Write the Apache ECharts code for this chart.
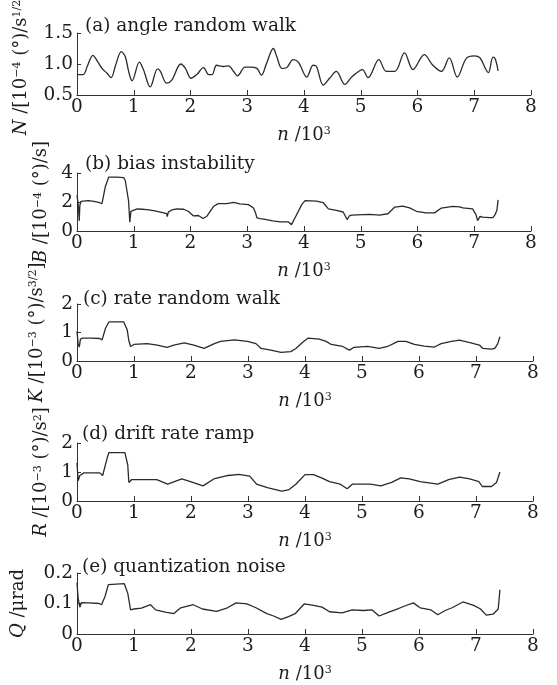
<!DOCTYPE html>
<html><head><meta charset="utf-8">
<script src="https://cdn.jsdelivr.net/npm/echarts@6/dist/echarts.min.js"></script>
<style>html,body{margin:0;padding:0;background:#fff}#c{width:557px;height:685px}</style>
</head><body><div id="c"></div>
<script>
// ---- data ----
const xTicks = [0,1,2,3,4,5,6,7,8];
const titles = ['(a) angle random walk','(b) bias instability','(c) rate random walk','(d) drift rate ramp','(e) quantization noise'];

const nA = [0.00,0.11,0.18,0.28,0.35,0.44,0.53,0.60,0.68,0.78,0.85,0.91,0.97,1.10,1.17,1.29,1.42,1.47,1.58,1.67,1.83,1.91,2.01,2.11,2.23,2.32,2.38,2.46,2.58,2.67,2.76,2.83,2.96,3.05,3.17,3.25,3.34,3.46,3.52,3.61,3.69,3.81,3.90,4.05,4.16,4.22,4.34,4.45,4.57,4.72,4.84,4.98,5.03,5.13,5.32,5.45,5.60,5.77,5.92,6.12,6.27,6.42,6.56,6.70,6.86,7.00,7.10,7.20,7.25,7.33,7.37,7.42];
const vA = [0.83,0.83,0.96,1.14,1.06,0.93,0.85,0.78,0.98,1.20,1.12,0.88,0.73,1.03,0.91,0.63,0.92,0.88,0.69,0.74,1.00,0.93,0.77,0.83,0.94,0.83,0.83,0.98,0.96,0.97,0.88,0.81,0.95,0.95,0.93,0.82,1.01,1.25,1.12,0.93,0.94,1.07,1.03,0.79,0.98,0.96,0.66,0.77,0.88,0.67,0.79,0.89,0.91,0.78,1.07,0.88,0.88,1.18,0.91,1.15,0.98,0.88,1.10,0.79,1.09,1.13,1.10,0.92,0.86,1.11,1.08,0.89];

const nB = [0.00,0.02,0.04,0.05,0.07,0.10,0.20,0.30,0.40,0.44,0.50,0.56,0.70,0.82,0.85,0.91,0.93,0.95,0.98,1.06,1.15,1.23,1.35,1.47,1.58,1.59,1.61,1.67,1.76,1.88,1.96,2.05,2.14,2.22,2.29,2.41,2.49,2.64,2.76,2.87,3.02,3.11,3.15,3.17,3.23,3.34,3.45,3.58,3.72,3.78,3.84,3.96,4.02,4.22,4.34,4.43,4.57,4.69,4.76,4.80,4.84,5.04,5.16,5.33,5.48,5.60,5.74,5.86,5.98,6.15,6.30,6.42,6.62,6.74,6.80,6.97,7.03,7.06,7.10,7.15,7.27,7.33,7.37,7.40,7.42];
const vB = [2.45,1.9,0.7,1.75,2.05,2.05,2.1,2.05,1.95,1.88,3.07,3.72,3.72,3.68,3.5,2.04,0.6,1.35,1.47,1.52,1.50,1.48,1.40,1.30,1.19,1.0,1.3,1.45,1.52,1.50,1.36,1.05,1.07,0.86,1.02,1.71,1.89,1.89,1.98,1.87,1.82,1.59,1.2,0.91,0.86,0.79,0.70,0.63,0.63,0.44,0.9,1.82,2.10,2.06,1.95,1.52,1.42,1.31,0.79,1.05,1.10,1.13,1.15,1.10,1.19,1.65,1.72,1.59,1.36,1.25,1.25,1.58,1.70,1.66,1.59,1.52,1.13,0.72,1.0,0.95,0.92,0.92,1.15,1.45,2.15];

const nC = [0.00,0.02,0.04,0.06,0.10,0.25,0.40,0.44,0.50,0.56,0.70,0.82,0.88,0.91,0.94,1.00,1.23,1.41,1.58,1.70,1.88,2.05,2.23,2.41,2.52,2.76,2.99,3.14,3.23,3.40,3.58,3.75,3.84,3.96,4.05,4.25,4.37,4.46,4.66,4.78,4.86,5.10,5.30,5.45,5.63,5.77,5.92,6.09,6.27,6.39,6.57,6.71,6.91,7.06,7.12,7.27,7.33,7.38,7.42];
const vC = [1.04,0.6,0.49,0.77,0.80,0.80,0.79,0.74,1.15,1.37,1.37,1.37,1.1,0.71,0.51,0.58,0.61,0.56,0.48,0.56,0.64,0.56,0.44,0.61,0.69,0.74,0.69,0.61,0.44,0.38,0.30,0.33,0.44,0.66,0.80,0.77,0.69,0.58,0.51,0.38,0.48,0.51,0.44,0.51,0.69,0.69,0.58,0.52,0.49,0.61,0.69,0.73,0.64,0.56,0.44,0.42,0.44,0.6,0.85];

const nD = [0.00,0.02,0.05,0.12,0.40,0.45,0.53,0.56,0.84,0.89,0.91,0.96,1.15,1.40,1.59,1.84,2.03,2.21,2.40,2.65,2.84,3.03,3.15,3.34,3.59,3.71,3.84,4.00,4.15,4.30,4.43,4.62,4.74,4.83,5.15,5.33,5.52,5.68,5.83,6.02,6.33,6.52,6.71,6.89,7.05,7.11,7.27,7.36,7.42];
const vD = [1.31,0.70,0.88,0.97,0.97,0.88,1.49,1.67,1.67,1.25,0.64,0.74,0.74,0.74,0.58,0.76,0.64,0.52,0.76,0.88,0.92,0.86,0.58,0.46,0.34,0.38,0.58,0.91,0.91,0.79,0.67,0.58,0.42,0.58,0.58,0.52,0.64,0.80,0.76,0.67,0.58,0.74,0.82,0.76,0.67,0.50,0.50,0.64,1.00];

const nE = [0.00,0.02,0.05,0.08,0.20,0.39,0.43,0.49,0.55,0.83,0.89,0.94,1.00,1.13,1.29,1.38,1.57,1.70,1.82,2.04,2.20,2.45,2.64,2.79,2.98,3.14,3.33,3.45,3.58,3.71,3.83,3.99,4.15,4.30,4.43,4.65,4.83,5.02,5.18,5.30,5.46,5.58,5.74,5.90,6.02,6.21,6.33,6.46,6.58,6.77,6.96,7.08,7.18,7.30,7.39,7.42];
const vE = [0.168,0.117,0.088,0.103,0.102,0.100,0.096,0.122,0.162,0.165,0.134,0.079,0.082,0.085,0.096,0.079,0.071,0.067,0.086,0.096,0.082,0.074,0.086,0.102,0.099,0.086,0.067,0.059,0.048,0.057,0.067,0.099,0.094,0.088,0.073,0.069,0.079,0.077,0.079,0.059,0.071,0.079,0.091,0.102,0.086,0.079,0.063,0.077,0.086,0.105,0.094,0.082,0.062,0.065,0.082,0.145];

const yMin = [0.5,0,0,0,0];
const yMax = [1.5,4,2,2,0.2];
const yStep = [0.5,2,1,1,0.1];
const yNames = [
  '{i|N} /[10{s|−4} (°)/s{s|1/2}]',
  '{i|B} /[10{s|−4} (°)/s]',
  '{i|K} /[10{s|−3} (°)/s{s|3/2}]',
  '{i|R} /[10{s|−3} (°)/s{s|2}]',
  '{i|Q} /μrad'
];
const xName = '{i|n} /10{s|3}';

// ---- layout / style ----
const FONT = 'DejaVu Serif';
const TC = '#1c1c1c';
const FS = 18.5;
const NFS = 18;
const rich = {
  i: {fontFamily: FONT, fontStyle: 'italic', fontSize: NFS, color: TC},
  s: {fontFamily: FONT, fontSize: 11, color: TC, verticalAlign: 'top'}
};
const grids = [
  {left: 77, right: 26, top: 33, height: 62},
  {left: 77, right: 26, top: 173, height: 58},
  {left: 77, right: 24, top: 304, height: 57},
  {left: 77, right: 24, top: 443, height: 58},
  {left: 77, right: 24, top: 573, height: 61}
].map(g => Object.assign(g, {containLabel: false, outerBoundsMode: 'none'}));
const titlePos = [[85,17],[85,155],[83,290],[82,425],[82,558]];
const yNameGap = [47, 12, 31, 19, 50];
const labelFmt = [
  v => v.toFixed(1),
  v => String(v),
  v => String(v),
  v => String(v),
  v => (v === 0 ? '0' : v.toFixed(1))
];
const series = [[nA,vA],[nB,vB],[nC,vC],[nD,vD],[nE,vE]];

const axisLine = {show: true, lineStyle: {color: '#333', width: 1}};
const option = {
  animation: false,
  backgroundColor: '#fff',
  title: titles.map((t, k) => ({
    text: t, left: titlePos[k][0], top: titlePos[k][1], padding: 0,
    textStyle: {fontFamily: FONT, fontSize: FS, fontWeight: 'normal', color: TC}
  })),
  grid: grids,
  xAxis: grids.map((g, k) => ({
    type: 'value', gridIndex: k, min: xTicks[0], max: xTicks[xTicks.length-1], interval: 1,
    axisLine: axisLine,
    axisTick: {show: true, inside: true, length: 5, lineStyle: {color: '#333'}},
    splitLine: {show: false},
    axisLabel: {margin: 3, fontFamily: FONT, fontSize: FS, color: TC},
    name: xName, nameLocation: 'middle', nameGap: 31,
    nameTextStyle: {fontFamily: FONT, fontSize: NFS, color: TC, rich: rich}
  })),
  yAxis: grids.map((g, k) => ({
    type: 'value', gridIndex: k, min: yMin[k], max: yMax[k], interval: yStep[k],
    axisLine: axisLine,
    axisTick: {show: true, inside: true, length: 4, lineStyle: {color: '#333'}},
    splitLine: {show: false},
    axisLabel: {margin: 4, fontFamily: FONT, fontSize: FS, color: TC, formatter: labelFmt[k]},
    name: yNames[k], nameLocation: 'middle', nameRotate: 90, nameGap: yNameGap[k],
    nameTextStyle: {fontFamily: FONT, fontSize: NFS, color: TC, rich: rich}
  })),
  series: series.map((s, k) => ({
    type: 'line', xAxisIndex: k, yAxisIndex: k,
    data: s[0].map((x, j) => [x, s[1][j]]),
    showSymbol: false, smooth: k === 0 ? 0.35 : false,
    lineStyle: {color: '#2a2a2a', width: 1.3}
  }))
};
const chart = echarts.init(document.getElementById('c'), null, {renderer: 'canvas'});
chart.setOption(option);
</script></body></html>
